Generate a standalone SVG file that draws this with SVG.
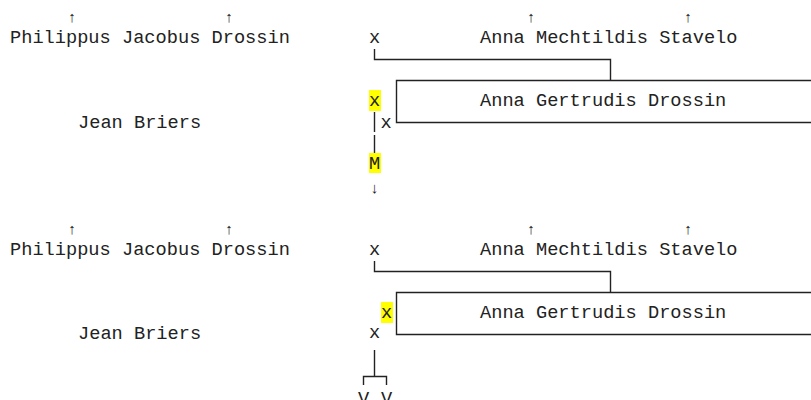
<svg xmlns="http://www.w3.org/2000/svg" width="811" height="400" viewBox="0 0 811 400">
<style>
text{font-family:"Liberation Mono","DejaVu Sans Mono",monospace;font-size:18.67px;fill:#222}
.ar{text-anchor:middle;font-size:15px}
.c{text-anchor:middle}
.hl{fill:#ffff00}
.ln{fill:none;stroke:#222;stroke-width:1.4}
</style>
<rect width="811" height="400" fill="#fff"/>
<g id="top">
  <g id="t-philippus">
    <text class="ar" x="72" y="22">↑</text>
    <text class="ar" x="229" y="22">↑</text>
    <text x="10" y="43">Philippus Jacobus Drossin</text>
  </g>
  <g id="t-x1"><text class="c" x="374.5" y="43">x</text></g>
  <g id="t-anna-m">
    <text class="ar" x="531" y="22">↑</text>
    <text class="ar" x="688" y="22">↑</text>
    <text x="480" y="43">Anna Mechtildis Stavelo</text>
  </g>
  <g id="t-anna-g"><text x="480" y="106">Anna Gertrudis Drossin</text></g>
  <g id="t-xh"><rect class="hl" x="369" y="90" width="12" height="21"/><text class="c" x="374.5" y="106">x</text></g>
  <g id="t-x2"><text class="c" x="386" y="128">x</text></g>
  <g id="t-jean"><text x="78" y="128">Jean Briers</text></g>
  <g id="t-m"><rect class="hl" x="369" y="153" width="12" height="20"/><text class="c" x="374.5" y="169">M</text><text class="ar" x="374.5" y="193">↓</text></g>
</g>
<g id="bottom">
  <g id="b-philippus">
    <text class="ar" x="72" y="234">↑</text>
    <text class="ar" x="229" y="234">↑</text>
    <text x="10" y="255">Philippus Jacobus Drossin</text>
  </g>
  <g id="b-x1"><text class="c" x="374.5" y="255">x</text></g>
  <g id="b-anna-m">
    <text class="ar" x="531" y="234">↑</text>
    <text class="ar" x="688" y="234">↑</text>
    <text x="480" y="255">Anna Mechtildis Stavelo</text>
  </g>
  <g id="b-anna-g"><text x="480" y="318">Anna Gertrudis Drossin</text></g>
  <g id="b-xh"><rect class="hl" x="381" y="302" width="12" height="21"/><text class="c" x="386.5" y="318">x</text></g>
  <g id="b-x2"><text class="c" x="374.5" y="338">x</text></g>
  <g id="b-jean"><text x="78" y="339">Jean Briers</text></g>
  <g id="b-v"><text class="c" x="363.5" y="404">V</text><text class="c" x="386.5" y="404">V</text></g>
</g>
<g id="connectors">
  <path class="ln" d="M374.5 49V59.5H610.5V80"/>
  <path class="ln" d="M811 80.5H396.5V122.5H811"/>
  <path class="ln" d="M374.5 112V132M374.5 135V153"/>
  <path class="ln" d="M374.5 261V271.5H610.5V292"/>
  <path class="ln" d="M811 292.5H396.5V334.5H811"/>
  <path class="ln" d="M374.5 350V376.5M363.5 385V376.5H386.5V385"/>
</g>
</svg>
